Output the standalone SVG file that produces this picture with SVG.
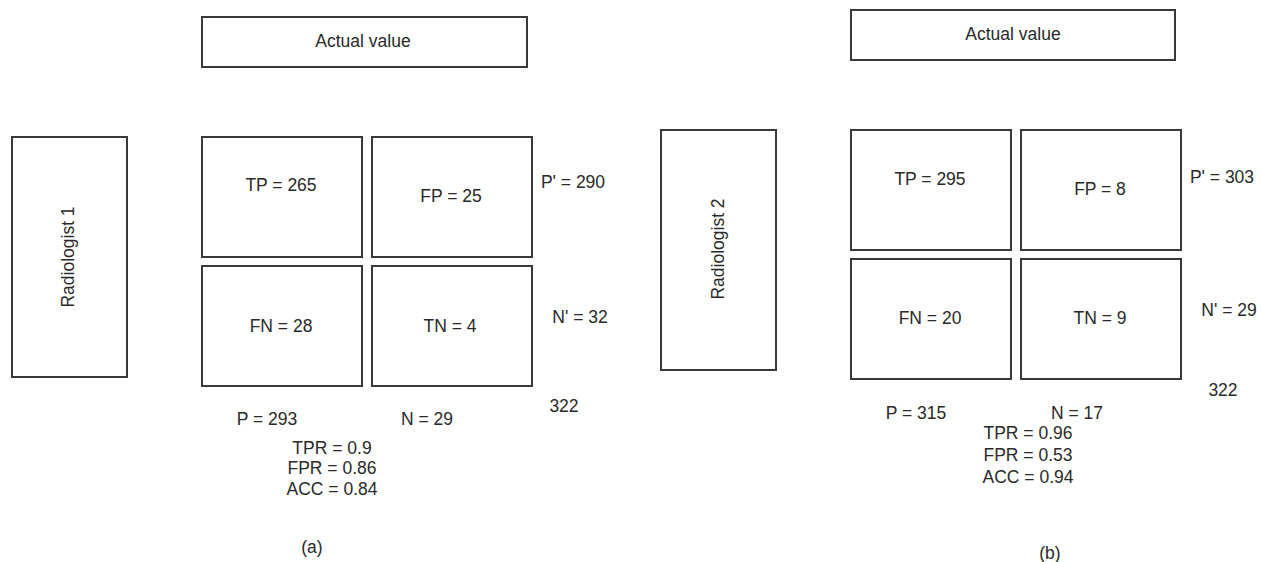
<svg xmlns="http://www.w3.org/2000/svg" width="1261" height="562" viewBox="0 0 1261 562">
  <style>
    .box { fill: #ffffff; stroke: #3a3a3a; stroke-width: 2; }
    .lbl { font-family: "Liberation Sans", Arial, sans-serif; font-size: 17.5px; fill: #2a2a2a; text-anchor: middle; dominant-baseline: central; }
  </style>
  <rect width="1261" height="562" fill="#ffffff"/>

  <!-- Panel (a): radiologist 1 -->
  <g id="a-actual"><rect class="box" x="202" y="17" width="325" height="50"/><text class="lbl" x="363" y="41">Actual value</text></g>
  <g id="a-radiologist"><rect class="box" x="12" y="137" width="115" height="240"/><text class="lbl" transform="translate(68 257) rotate(-90)">Radiologist 1</text></g>
  <g id="a-tp"><rect class="box" x="202" y="137" width="160" height="120"/><text class="lbl" x="281" y="185">TP = 265</text></g>
  <g id="a-fp"><rect class="box" x="372" y="137" width="160" height="120"/><text class="lbl" x="451" y="196">FP = 25</text></g>
  <g id="a-fn"><rect class="box" x="202" y="266" width="160" height="120"/><text class="lbl" x="281" y="326">FN = 28</text></g>
  <g id="a-tn"><rect class="box" x="372" y="266" width="160" height="120"/><text class="lbl" x="450" y="326">TN = 4</text></g>
  <g id="a-totals">
    <text class="lbl" x="573" y="182">P' = 290</text>
    <text class="lbl" x="580" y="317">N' = 32</text>
    <text class="lbl" x="564" y="406">322</text>
    <text class="lbl" x="267" y="419">P = 293</text>
    <text class="lbl" x="427" y="419">N = 29</text>
    <text class="lbl" x="332" y="448">TPR = 0.9</text>
    <text class="lbl" x="332" y="468">FPR = 0.86</text>
    <text class="lbl" x="332" y="489">ACC = 0.84</text>
    <text class="lbl" x="312" y="547">(a)</text>
  </g>

  <!-- Panel (b): radiologist 2 -->
  <g id="b-actual"><rect class="box" x="851" y="10" width="324" height="50"/><text class="lbl" x="1013" y="34">Actual value</text></g>
  <g id="b-radiologist"><rect class="box" x="661" y="130" width="115" height="240"/><text class="lbl" transform="translate(718 249) rotate(-90)">Radiologist 2</text></g>
  <g id="b-tp"><rect class="box" x="851" y="130" width="160" height="120"/><text class="lbl" x="930" y="179">TP = 295</text></g>
  <g id="b-fp"><rect class="box" x="1021" y="130" width="160" height="120"/><text class="lbl" x="1100" y="189">FP = 8</text></g>
  <g id="b-fn"><rect class="box" x="851" y="259" width="160" height="120"/><text class="lbl" x="930" y="318">FN = 20</text></g>
  <g id="b-tn"><rect class="box" x="1021" y="259" width="160" height="120"/><text class="lbl" x="1100" y="318">TN = 9</text></g>
  <g id="b-totals">
    <text class="lbl" x="1222" y="177">P' = 303</text>
    <text class="lbl" x="1229" y="310">N' = 29</text>
    <text class="lbl" x="1223" y="390">322</text>
    <text class="lbl" x="916" y="413">P = 315</text>
    <text class="lbl" x="1077" y="413">N = 17</text>
    <text class="lbl" x="1028" y="433">TPR = 0.96</text>
    <text class="lbl" x="1028" y="455">FPR = 0.53</text>
    <text class="lbl" x="1028" y="477">ACC = 0.94</text>
    <text class="lbl" x="1050" y="553">(b)</text>
  </g>

  <!-- no connectors in this figure -->
  <g id="connectors"/>
</svg>
